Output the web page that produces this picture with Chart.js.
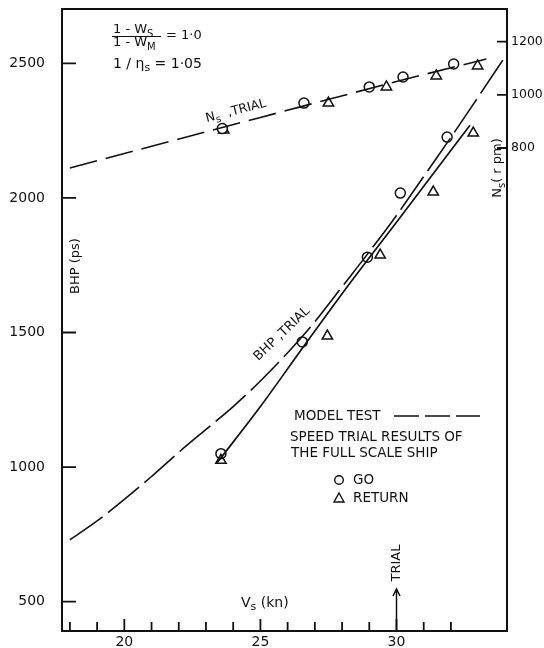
<!DOCTYPE html>
<html>
<head>
<meta charset="utf-8">
<script src="https://cdn.jsdelivr.net/npm/chart.js@4.4.0/dist/chart.umd.min.js"></script>
<style>
  html, body { margin: 0; padding: 0; background: #fff; }
  #wrap { width: 544px; height: 648px; }
</style>
</head>
<body>
<div id="wrap"><canvas id="chart" width="544" height="648"></canvas></div>
<script>
// model test BHP curve (dashed)
const modelSpeed = [18, 19, 20, 21, 22, 23, 24, 25, 26, 27, 28, 29, 30, 31, 32, 33, 34.06];
const modelBhp = [730, 800, 880, 965, 1055, 1140, 1225, 1320, 1425, 1540, 1670, 1800, 1935, 2080, 2225, 2375, 2535];

// BHP trial line (solid)
const trialSpeed = [23.4, 25, 26.6, 28.3, 30, 32.7];
const trialBhp = [1015, 1225, 1450, 1685, 1910, 2270];

// Ns trial line (dashed, right axis)
const nsSpeed = [18, 25, 30, 33.3];
const nsRpm = [725, 915, 1050, 1135];

// speed trial points
const goSpeed = [23.55, 26.54, 28.93, 30.14, 31.86];
const goBhp = [1050, 1465, 1780, 2018, 2226];
const returnSpeed = [23.55, 27.46, 29.4, 31.35, 32.82];
const returnBhp = [1025, 1487, 1788, 2022, 2241];
const goNsSpeed = [23.6, 26.6, 29.0, 30.24, 32.1];
const goNs = [873, 969, 1030, 1067, 1116];
const returnNsSpeed = [23.65, 27.5, 29.63, 31.46, 32.98];
const returnNs = [868, 969, 1030, 1071, 1109];

// axes
const speedTicks = [18, 19, 20, 21, 22, 23, 24, 25, 26, 27, 28, 29, 30, 31, 32];
const speedLabels = [20, 25, 30];
const bhpTicks = [500, 1000, 1500, 2000, 2500];
const rpmTicks = [800, 1000, 1200];

const INK = "#111";
const FONT = "DejaVu Sans";

const pts = (xs, ys) => xs.map((x, i) => ({ x, y: ys[i] }));

// text with subscripts: parts = [[text, isSub], ...]
function textRun(ctx, x, y, parts, size, align) {
  const fontFor = sub => `${sub ? Math.round(size * 0.78) : size}px "${FONT}"`;
  let w = 0;
  parts.forEach(([t, sub]) => { ctx.font = fontFor(sub); w += ctx.measureText(t).width; });
  let cx = align === "center" ? x - w / 2 : x;
  ctx.textAlign = "left";
  ctx.textBaseline = "middle";
  parts.forEach(([t, sub]) => {
    ctx.font = fontFor(sub);
    ctx.fillText(t, cx, sub ? y + size * 0.32 : y);
    cx += ctx.measureText(t).width;
  });
}

function rotated(ctx, x, y, deg, fn) {
  ctx.save();
  ctx.translate(x, y);
  ctx.rotate(deg * Math.PI / 180);
  fn();
  ctx.restore();
}

// keep the plot box where the scan has it
function noPad(s) {
  s.paddingTop = 0;
  s.paddingBottom = 0;
  s.paddingLeft = 0;
  s.paddingRight = 0;
}

const annotations = {
  id: "annotations",
  beforeDraw(chart) {
    const { ctx, width, height } = chart;
    ctx.save();
    ctx.fillStyle = "#fff";
    ctx.fillRect(0, 0, width, height);
    ctx.restore();
  },
  afterDraw(chart) {
    const { ctx, chartArea: a, scales } = chart;
    ctx.save();
    ctx.strokeStyle = INK;
    ctx.fillStyle = INK;

    // top frame line
    ctx.lineWidth = 2;
    ctx.beginPath();
    ctx.moveTo(a.left, a.top);
    ctx.lineTo(a.right + 1, a.top);
    ctx.stroke();

    // inward tick marks
    ctx.lineWidth = 1.8;
    ctx.beginPath();
    speedTicks.forEach(v => {
      const px = scales.x.getPixelForValue(v);
      const len = v % 5 === 0 ? 12 : 9;
      ctx.moveTo(px, a.bottom);
      ctx.lineTo(px, a.bottom - len);
    });
    bhpTicks.forEach(v => {
      const py = scales.y.getPixelForValue(v);
      ctx.moveTo(a.left, py);
      ctx.lineTo(a.left + 14, py);
    });
    rpmTicks.forEach(v => {
      const py = scales.y1.getPixelForValue(v);
      ctx.moveTo(a.right, py);
      ctx.lineTo(a.right - 10, py);
    });
    ctx.stroke();

    // formula
    textRun(ctx, 113, 30, [["1 - W"], ["S", true]], 13);
    ctx.lineWidth = 1.2;
    ctx.beginPath();
    ctx.moveTo(112, 36.5);
    ctx.lineTo(161, 36.5);
    ctx.stroke();
    textRun(ctx, 113, 43, [["1 - W"], ["M", true]], 13);
    textRun(ctx, 166, 36, [["= 1·0"]], 13);
    textRun(ctx, 113, 64, [["1 / η"], ["s", true], [" = 1·05"]], 14);

    // axis titles
    rotated(ctx, 76, 266, -90, () => textRun(ctx, 0, 0, [["BHP (ps)"]], 13, "center"));
    rotated(ctx, 498, 168, -90, () => textRun(ctx, 0, 0, [["N"], ["s", true], ["( r pm)"]], 13, "center"));
    textRun(ctx, 241, 603, [["V"], ["s", true], [" (kn)"]], 14);

    // curve labels
    rotated(ctx, 236, 111, -14.5, () => textRun(ctx, 0, 0, [["N"], ["s", true], ["  ,TRIAL"]], 12.5, "center"));
    rotated(ctx, 282, 334, -43.6, () => textRun(ctx, 0, 0, [["BHP ,TRIAL"]], 13, "center"));

    // trial arrow
    const tx = scales.x.getPixelForValue(30);
    ctx.lineWidth = 1.5;
    ctx.beginPath();
    ctx.moveTo(tx, a.bottom);
    ctx.lineTo(tx, 590);
    ctx.moveTo(tx - 3.5, 596);
    ctx.lineTo(tx, 589);
    ctx.lineTo(tx + 3.5, 596);
    ctx.stroke();
    rotated(ctx, tx, 563, -90, () => textRun(ctx, 0, 0, [["TRIAL"]], 13, "center"));

    // legend
    textRun(ctx, 294, 416, [["MODEL TEST"]], 13.5);
    ctx.lineWidth = 1.6;
    ctx.setLineDash([25, 6]);
    ctx.beginPath();
    ctx.moveTo(394, 416);
    ctx.lineTo(480, 416);
    ctx.stroke();
    ctx.setLineDash([]);
    textRun(ctx, 290, 437, [["SPEED TRIAL RESULTS OF"]], 13.5);
    textRun(ctx, 291, 453, [["THE FULL SCALE SHIP"]], 13.5);
    ctx.lineWidth = 1.4;
    ctx.beginPath();
    ctx.arc(339, 480, 4.3, 0, Math.PI * 2);
    ctx.stroke();
    textRun(ctx, 353, 480, [["GO"]], 13.5);
    ctx.beginPath();
    ctx.moveTo(339, 493);
    ctx.lineTo(344, 502);
    ctx.lineTo(334, 502);
    ctx.closePath();
    ctx.stroke();
    textRun(ctx, 353, 498, [["RETURN"]], 13.5);

    ctx.restore();
  }
};

const axisFont = { family: FONT, size: 14 };
const noGrid = { display: false, drawTicks: false };

new Chart(document.getElementById("chart"), {
  type: "line",
  data: {
    datasets: [
      { data: pts(modelSpeed, modelBhp), yAxisID: "y", borderColor: INK, borderWidth: 1.6, borderDash: [40, 7],
        pointRadius: 0, cubicInterpolationMode: "monotone", fill: false },
      { data: pts(trialSpeed, trialBhp), yAxisID: "y", borderColor: INK, borderWidth: 1.7,
        pointRadius: 0, cubicInterpolationMode: "monotone", fill: false },
      { data: pts(nsSpeed, nsRpm), yAxisID: "y1", borderColor: INK, borderWidth: 1.6, borderDash: [28, 9],
        pointRadius: 0, cubicInterpolationMode: "monotone", fill: false },
      { data: pts(goSpeed, goBhp), yAxisID: "y", showLine: false, pointStyle: "circle", pointRadius: 5,
        pointBackgroundColor: "rgba(255,255,255,0)", pointBorderColor: INK, pointBorderWidth: 1.5 },
      { data: pts(returnSpeed, returnBhp), yAxisID: "y", showLine: false, pointStyle: "triangle", pointRadius: 6,
        pointBackgroundColor: "rgba(255,255,255,0)", pointBorderColor: INK, pointBorderWidth: 1.5 },
      { data: pts(goNsSpeed, goNs), yAxisID: "y1", showLine: false, pointStyle: "circle", pointRadius: 5,
        pointBackgroundColor: "#fff", pointBorderColor: INK, pointBorderWidth: 1.5 },
      { data: pts(returnNsSpeed, returnNs), yAxisID: "y1", showLine: false, pointStyle: "triangle", pointRadius: 6,
        pointBackgroundColor: "#fff", pointBorderColor: INK, pointBorderWidth: 1.5 }
    ]
  },
  options: {
    responsive: false,
    animation: false,
    layout: { padding: { top: 9, left: 0, right: 0, bottom: 0 } },
    plugins: { legend: { display: false }, tooltip: { enabled: false } },
    scales: {
      x: {
        type: "linear", min: 17.71, max: 34.06,
        grid: noGrid,
        border: { color: INK, width: 2 },
        afterBuildTicks: s => { s.ticks = speedTicks.map(v => ({ value: v })); },
        afterFit: s => { s.height = 17; noPad(s); },
        ticks: { autoSkip: false, maxRotation: 0, padding: 3, color: INK, font: axisFont,
                 callback: v => speedLabels.includes(v) ? String(v) : "" }
      },
      y: {
        position: "left", min: 391, max: 2702,
        grid: noGrid,
        border: { color: INK, width: 2 },
        afterBuildTicks: s => { s.ticks = bhpTicks.map(v => ({ value: v })); },
        afterFit: s => { s.width = 62; noPad(s); },
        ticks: { padding: 17, color: INK, font: axisFont, callback: v => String(v) }
      },
      y1: {
        position: "right", min: -1017, max: 1323,
        grid: noGrid,
        border: { color: INK, width: 2 },
        afterBuildTicks: s => { s.ticks = rpmTicks.map(v => ({ value: v })); },
        afterFit: s => { s.width = 37; noPad(s); },
        ticks: { padding: 4, color: INK, font: { family: FONT, size: 12.5 }, callback: v => String(v) }
      }
    }
  },
  plugins: [annotations]
});
</script>
</body>
</html>
